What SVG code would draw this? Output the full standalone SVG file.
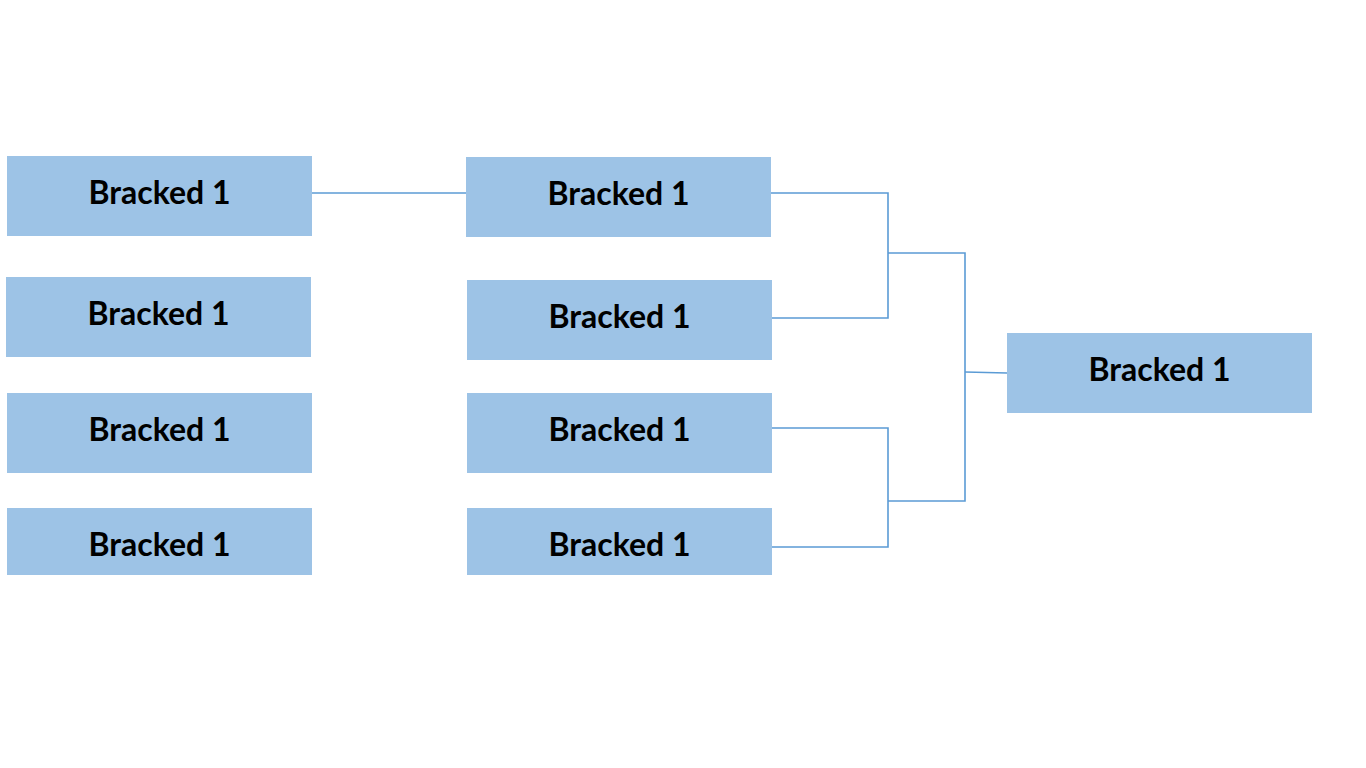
<svg xmlns="http://www.w3.org/2000/svg" width="1366" height="768" viewBox="0 0 1366 768">
<style>
.box{fill:#9DC3E6;}
.lbl{font-family:Lato,"Open Sans","Liberation Sans",sans-serif;font-weight:bold;font-size:32px;fill:#000;text-anchor:middle;}
.con{fill:none;stroke:#5B9BD5;stroke-width:1.6;}
</style>
<rect width="1366" height="768" fill="#fff"/>
<g id="connectors">
<path class="con" d="M312,193 H466"/>
<path class="con" d="M771,193 H888 V318 H772"/>
<path class="con" d="M772,428 H888 V547 H772"/>
<path class="con" d="M888,253 H965 V501 H888"/>
<path class="con" d="M965,372 L1007,373"/>
</g>
<g id="n1"><rect class="box" x="7" y="156" width="305" height="80"/><text class="lbl" x="159.5" y="204">Bracked 1</text></g>
<g id="n2"><rect class="box" x="6" y="277" width="305" height="80"/><text class="lbl" x="158.5" y="325">Bracked 1</text></g>
<g id="n3"><rect class="box" x="7" y="393" width="305" height="80"/><text class="lbl" x="159.5" y="441">Bracked 1</text></g>
<g id="n4"><rect class="box" x="7" y="508" width="305" height="67"/><text class="lbl" x="159.5" y="556">Bracked 1</text></g>
<g id="m1"><rect class="box" x="466" y="157" width="305" height="80"/><text class="lbl" x="618.5" y="205">Bracked 1</text></g>
<g id="m2"><rect class="box" x="467" y="280" width="305" height="80"/><text class="lbl" x="619.5" y="328">Bracked 1</text></g>
<g id="m3"><rect class="box" x="467" y="393" width="305" height="80"/><text class="lbl" x="619.5" y="441">Bracked 1</text></g>
<g id="m4"><rect class="box" x="467" y="508" width="305" height="67"/><text class="lbl" x="619.5" y="556">Bracked 1</text></g>
<g id="f1"><rect class="box" x="1007" y="333" width="305" height="80"/><text class="lbl" x="1159.5" y="381">Bracked 1</text></g>
</svg>
